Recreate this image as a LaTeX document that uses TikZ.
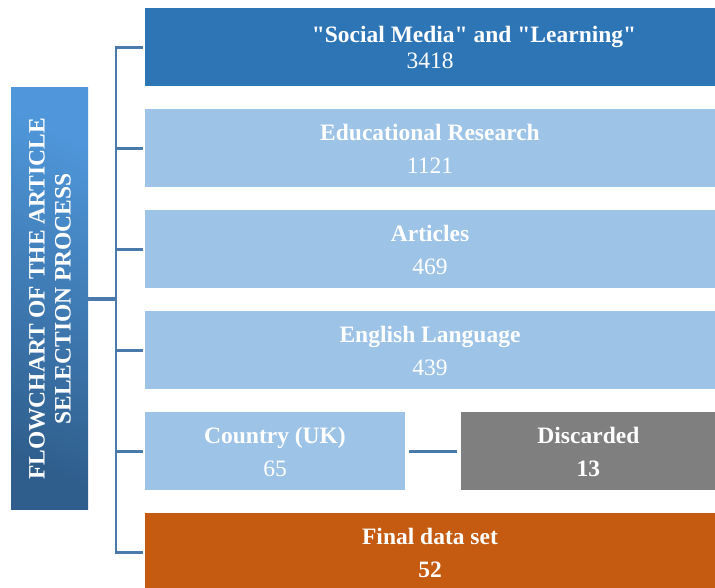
\documentclass[tikz,border=0pt]{standalone}
\usepackage{fontspec}
\setmainfont{Liberation Serif}
\usepackage{tikz}
\usetikzlibrary{positioning}

\definecolor{searchblue}{HTML}{2E75B6}
\definecolor{stageblue}{HTML}{9DC3E6}
\definecolor{dropgray}{HTML}{7F7F7F}
\definecolor{finalorange}{HTML}{C55A11}
\definecolor{linkblue}{HTML}{4A79AC}
\definecolor{titledark}{HTML}{2F5E8C}
\definecolor{titlelight}{HTML}{4F97DA}

\newcommand{\boxfont}{\fontsize{23.5}{33}\selectfont}
\newcommand{\qq}[1]{\textquotedbl#1\textquotedbl}

\tikzset{
  stagebox/.style={draw=none, fill=stageblue, text=white,
    minimum width=570pt, minimum height=78pt, inner sep=0pt,
    align=center, font=\boxfont},
  link/.style={draw=linkblue, line width=2.6pt},
}

\begin{document}
\begin{tikzpicture}[x=1pt, y=1pt, node distance=22.6pt]
  \useasboundingbox (0,0) rectangle (715,588);

  % Selection stages, top to bottom
  \node[stagebox, fill=searchblue] (search) at (430,540.5)
    {\hspace*{88pt}\textbf{\qq{Social Media} and \qq{Learning}}\\[-7pt]3418};
  \node[stagebox, below=of search] (edu)
    {\textbf{Educational Research}\\1121};
  \node[stagebox, below=of edu] (art)
    {\textbf{Articles}\\469};
  \node[stagebox, below=of art] (lang)
    {\textbf{English Language}\\439};
  \node[stagebox, minimum width=260pt,
        below=22.6pt of lang.south west, anchor=north west] (country)
    {\textbf{Country (UK)}\\65};
  \node[stagebox, fill=dropgray, minimum width=254pt,
        right=56pt of country] (discard)
    {\textbf{Discarded}\\\textbf{13}};
  \node[stagebox, fill=finalorange,
        below=22.6pt of country.south west, anchor=north west] (final)
    {\textbf{Final data set}\\\textbf{52}};

  % Side title
  \node[draw=none, shading=axis, top color=titlelight, bottom color=titledark,
        shading angle=-25,
        minimum width=77pt, minimum height=422pt, inner sep=0pt,
        text=white, font=\fontsize{23.5}{26}\selectfont\bfseries] (title) at (49.5,289)
    {\hspace*{6pt}\rotatebox{90}{\begin{tabular}{@{}c@{}}FLOWCHART OF THE ARTICLE\\SELECTION PROCESS\end{tabular}}};

  % Spine and branches
  \coordinate (spine) at (116,289);
  \draw[link, line cap=rect] (search.west -| spine) -- (final.west -| spine);
  \foreach \n in {search, edu, art, lang, country, final}
    \draw[link, shorten >=2pt] (\n.west -| spine) -- (\n.west);
  \draw[link, line width=4pt] (title.east) -- (title.east -| spine);
  \draw[link, shorten <=4pt, shorten >=4pt] (country) -- (discard);
\end{tikzpicture}
\end{document}
